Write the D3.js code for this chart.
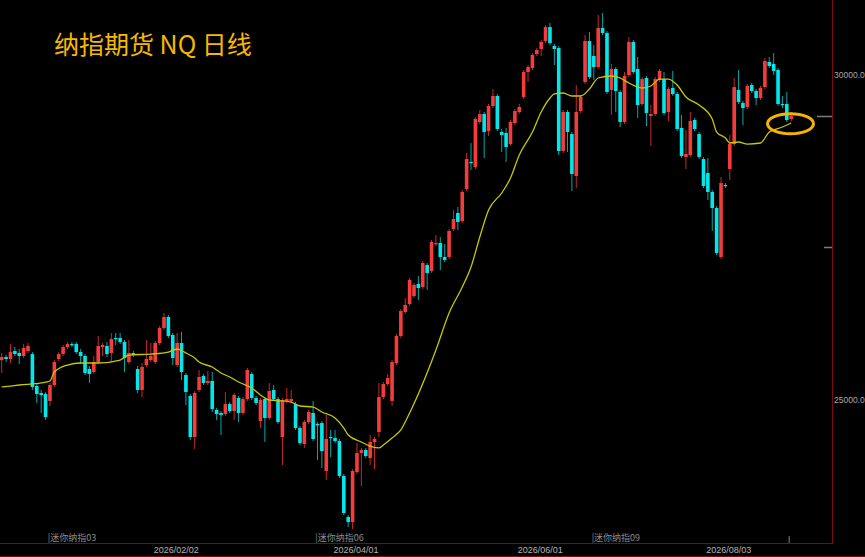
<!DOCTYPE html>
<html>
<head>
<meta charset="utf-8">
<script src="https://cdn.jsdelivr.net/npm/d3@7"></script>
<style>
  html, body { margin: 0; padding: 0; background: #000; }
  svg { display: block; }
</style>
</head>
<body>
<div id="chart"></div>
<script>
// daily candles, oldest first (index 0 .. 180)
const openP = [25615,25661,25631,25754,25723,25677,25754,25707,25215,25108,25092,24985,25231,25631,25707,25815,25861,25861,25738,25677,
  25477,25431,25584,25815,25831,25723,25954,25954,25892,25584,25723,25477,25154,25538,25615,25584,25877,26108,26277,26000,
  25538,25877,25385,25062,24431,25154,25369,25262,25292,24846,24800,24785,24938,24831,25031,24800,25015,25400,25031,24677,
  25015,24723,25154,25015,24431,24985,24985,24938,24569,24323,24661,24800,24631,24646,23908,24431,24415,24369,23831,23200,
  23123,23892,24185,24231,24108,24354,24508,25046,25246,24985,25569,25985,26354,26477,26600,26785,26738,27077,26985,27400,
  27415,27200,27200,27631,27877,27754,28246,28662,28585,29277,29400,29138,29523,29677,29123,29108,28938,29262,29431,29662,
  30046,30108,30323,30400,30523,30738,30446,30415,28831,29431,29092,28446,29446,29892,30523,30292,30123,30723,30646,29769,
  30092,29738,29277,30000,30508,30092,29554,29954,29369,29400,29923,29938,29431,29800,29708,29185,28738,28769,29308,29092,
  28708,28492,28200,27954,27200,28308,28554,28938,29769,29569,29508,29846,29754,29646,29815,30200,30169,30077,29554,29554,
  29323]
const highP = [25723,25692,25861,25815,25785,25861,25877,25738,25262,25154,25123,25262,25615,25738,25846,25892,25892,25892,25785,25707,
  25523,25677,25985,25877,25892,26031,26031,26031,25923,25923,25754,25523,25569,25923,25877,25908,26139,26339,26308,26031,
  26031,26046,25416,25092,25138,25462,25400,25446,25431,24877,24831,25123,24969,25108,25062,25046,25492,25431,25062,25031,
  25046,25262,25231,25046,25031,25185,25154,24969,24600,24692,24846,24985,24661,24677,24769,24539,24539,24400,23862,23231,
  23938,24339,24262,24262,24462,24431,25262,25277,25400,25615,26015,26400,26569,26877,26800,26908,27138,27108,27462,27538,
  27508,27400,27631,27923,27969,28231,28800,28954,29354,29462,29431,29554,29785,29708,29169,29185,29308,29477,29554,30077,
  30154,30338,30415,30539,30769,30800,30477,30446,29462,29462,29123,29846,29692,30615,30662,30462,30923,30954,30677,30169,
  30123,29769,30046,30585,30539,30277,29969,29985,29538,29969,30092,30046,29815,30062,29738,29385,29154,29431,29338,29123,
  28738,28723,28231,27985,28431,28338,29077,29954,30077,29600,29862,29877,29785,29831,30262,30277,30338,30108,29677,29739,
  29431]
const lowP = [25416,25584,25569,25677,25553,25646,25723,25154,24954,24800,24692,24908,25200,25600,25677,25785,25815,25707,25553,25385,
  25262,25400,25553,25677,25661,25584,25846,25861,25431,25553,25661,25108,25046,25508,25584,25553,25846,26077,25954,25538,
  25508,25308,24923,24385,24246,25123,25231,25231,24815,24692,24462,24754,24800,24692,24661,24769,24985,25000,24923,24569,
  24354,24692,24985,24631,24000,24954,24954,24539,24308,24262,24631,24369,24077,23954,23769,24123,24339,23800,23231,23046,
  23015,23862,23677,24108,24000,23938,24431,25015,25215,24908,25538,25954,26323,26446,26569,26539,26708,26692,26954,27369,
  27000,27123,27169,27600,27615,27723,28215,28539,28554,29246,28723,29062,29492,29138,28815,28662,28908,29231,29400,29631,
  29892,30077,30292,30292,30492,30462,30154,28769,28800,28815,28215,28262,29415,29862,29938,29923,30092,30615,29708,29385,
  29431,29200,29246,29969,30015,29338,29523,29215,28908,29369,29892,29385,29292,29677,29138,28723,28554,28738,29138,28708,
  28262,28077,27600,27231,27169,28262,28385,28908,29554,29231,29477,29723,29538,29615,29785,30108,30000,29523,29492,29277,
  29292]
const closeP = [25661,25631,25738,25707,25677,25800,25831,25200,25092,25077,24738,25231,25584,25707,25815,25861,25846,25738,25677,25416,
  25400,25584,25831,25846,25707,25938,25938,25892,25646,25723,25692,25154,25508,25631,25677,25877,26108,26277,25985,25646,
  25877,25431,25123,24431,25108,25354,25262,25292,24862,24785,24769,24938,24831,25077,24800,25015,25462,25031,24954,25000,
  24723,25138,25015,24661,25000,25015,25015,24569,24339,24661,24815,24400,24615,24215,24400,24415,24369,23831,23262,23123,
  23908,24185,24231,24138,24354,24400,25046,25246,25338,25584,25985,26369,26462,26846,26769,26723,27108,26954,27431,27415,
  27200,27154,27600,27785,27738,28200,28708,28646,29323,29400,29123,29523,29677,29169,29077,28892,29277,29446,29508,30046,
  30123,30308,30385,30508,30738,30492,30400,28831,29431,29123,28477,29431,29662,30523,29969,30123,30723,30646,29738,30092,
  29754,29277,29985,30508,30046,29538,29938,29415,29400,29938,30062,29415,29785,29708,29169,28754,28785,29292,29169,28738,
  28292,28200,27954,27262,28338,28292,28938,29815,29585,29492,29831,29754,29646,29800,30215,30138,30062,29554,29538,29308,
  29369]

// yellow moving average (day index, value)
const maDay = [0,2,4,9,11,12,15,18,22,27,29,34,38,40,42,44,45,48,50,52,54,57,59,61,64,66,68,71,73,76,78,79,82,84,86,87,89,91,93,
  99,102,105,107,109,111,114,116,118,121,123,125,126,128,130,132,134,136,139,141,143,146,148,150,152,154,156,159,162,163,165,166,
  168,170,173,175,178,180]
const maValue = [25200,25215,25231,25262,25292,25431,25538,25569,25569,25615,25692,25707,25738,25785,25723,25646,25584,25508,25416,
  25354,25277,25185,25077,25000,24985,24969,24908,24892,24815,24723,24569,24462,24354,24292,24262,24308,24415,24539,24800,
  25769,26339,26739,27046,27508,27923,28185,28415,28769,29123,29431,29646,29708,29723,29677,29677,29785,29954,29985,29954,
  29877,29800,29831,29938,29938,29846,29662,29538,29323,29123,29031,28954,28969,28938,28954,29123,29200,29262]

const dateDays = [40, 81, 123, 166]
const dateLabels = ["2026/02/02", "2026/04/01", "2026/06/01", "2026/08/03"]
const rollDays = [11, 72, 135]
const rollLabels = ["|迷你纳指03", "|迷你纳指06", "|迷你纳指09"]
const priceTicks = [25000, 30000]
const markLevels = [29369, 27354]
const circled = { day: 180, price: 29250 }

const width = 865
const height = 557
const plotRight = 832
const plotBottom = 543

const upColor = "#f43c3c"
const downColor = "#00e8ec"

const candles = openP.map((o, i) => ({
    i: i, o: o, h: highP[i], l: lowP[i], c: closeP[i]
}))

const svg = d3.select("#chart").append("svg")
    .attr("width", width)
    .attr("height", height)

svg.append("rect")
    .attr("width", width)
    .attr("height", height)
    .attr("fill", "#000")

const x = d3.scaleLinear()
    .domain([0, candles.length - 1])
    .range([1.7, 791.2])

const y = d3.scaleLinear()
    .domain([22800, 31154])
    .range([plotBottom, 0])

svg.append("clipPath").attr("id", "plotClip")
    .append("rect")
    .attr("width", plotRight)
    .attr("height", plotBottom)

const plot = svg.append("g").attr("clip-path", "url(#plotClip)")

// wicks
plot.append("g").selectAll("line")
    .data(candles)
    .enter().append("line")
    .attr("x1", d => x(d.i))
    .attr("x2", d => x(d.i))
    .attr("y1", d => y(d.h))
    .attr("y2", d => y(d.l))
    .attr("stroke", d => d.c >= d.o ? "#c42a2a" : "#00a8aa")
    .attr("stroke-width", 1)

// bodies
const bodyW = 3.6
plot.append("g").selectAll("rect")
    .data(candles)
    .enter().append("rect")
    .attr("x", d => x(d.i) - bodyW / 2)
    .attr("width", bodyW)
    .attr("y", d => y(Math.max(d.o, d.c)))
    .attr("height", d => Math.max(1.2, Math.abs(y(d.o) - y(d.c))))
    .attr("fill", d => d.c >= d.o ? upColor : downColor)

// moving average
const ma = maDay.map((d, i) => [d, maValue[i]])
plot.append("path")
    .datum(ma)
    .attr("fill", "none")
    .attr("stroke", "#c8c800")
    .attr("stroke-width", 1.3)
    .attr("d", d3.line()
        .x(d => x(d[0]))
        .y(d => y(d[1]))
        .curve(d3.curveMonotoneX))

// frame
svg.append("line")
    .attr("x1", plotRight + 0.5).attr("x2", plotRight + 0.5)
    .attr("y1", 0).attr("y2", plotBottom)
    .attr("stroke", "#7a0c0c")
svg.append("line")
    .attr("x1", 0).attr("x2", plotRight + 1)
    .attr("y1", plotBottom + 0.5).attr("y2", plotBottom + 0.5)
    .attr("stroke", "#7a0c0c")
svg.append("line")
    .attr("x1", 0).attr("x2", width)
    .attr("y1", height - 0.5).attr("y2", height - 0.5)
    .attr("stroke", "#7a0c0c")

// price axis on the right
const yAxis = svg.append("g")
    .attr("transform", "translate(" + (plotRight + 2) + ",0)")
    .call(d3.axisRight(y)
        .tickValues(priceTicks)
        .tickFormat(d3.format(".1f"))
        .tickSize(0)
        .tickPadding(0))
yAxis.select(".domain").remove()
yAxis.selectAll("text")
    .attr("fill", "#a8a8a8")
    .attr("font-family", "Liberation Sans, Arial, sans-serif")
    .attr("font-size", "8.5px")

// little level marks at the right edge
svg.append("g").selectAll("line")
    .data(markLevels)
    .enter().append("line")
    .attr("x1", (d, i) => i === 0 ? plotRight - 15 : plotRight - 8)
    .attr("x2", plotRight)
    .attr("y1", d => Math.round(y(d)) + 0.5)
    .attr("y2", d => Math.round(y(d)) + 0.5)
    .attr("stroke", "#7c7c7c")
    .attr("stroke-width", 1.5)

// date axis
const xAxis = svg.append("g")
    .attr("transform", "translate(-1.5," + plotBottom + ")")
    .call(d3.axisBottom(x)
        .tickValues(dateDays)
        .tickFormat((d, i) => dateLabels[i])
        .tickSize(0)
        .tickPadding(4))
xAxis.select(".domain").remove()
xAxis.selectAll("text")
    .attr("fill", "#b4b4b4")
    .attr("font-family", "Liberation Sans, Arial, sans-serif")
    .attr("font-size", "9px")

// contract roll labels
svg.append("g").selectAll("text")
    .data(rollDays)
    .enter().append("text")
    .attr("x", d => x(d) - 2.2)
    .attr("y", plotBottom - 2)
    .attr("fill", "#8c8c8c")
    .attr("font-family", "Noto Sans CJK SC")
    .attr("font-size", "9px")
    .text((d, i) => rollLabels[i])

// current bar marker on the bottom edge
svg.append("line")
    .attr("x1", x(candles.length - 1) - 2).attr("x2", x(candles.length - 1) - 2)
    .attr("y1", plotBottom - 7).attr("y2", plotBottom)
    .attr("stroke", "#7c7c7c")

// circled last bar
svg.append("ellipse")
    .attr("cx", x(circled.day) - 0.7)
    .attr("cy", y(circled.price))
    .attr("rx", 23)
    .attr("ry", 10)
    .attr("fill", "none")
    .attr("stroke", "#f4b400")
    .attr("stroke-width", 3)

// title
svg.append("text")
    .attr("x", 54)
    .attr("y", 54)
    .attr("fill", "#f6b800")
    .attr("font-family", "Noto Sans CJK SC")
    .attr("font-size", "25px")
    .text("纳指期货 NQ 日线")
</script>
</body>
</html>
